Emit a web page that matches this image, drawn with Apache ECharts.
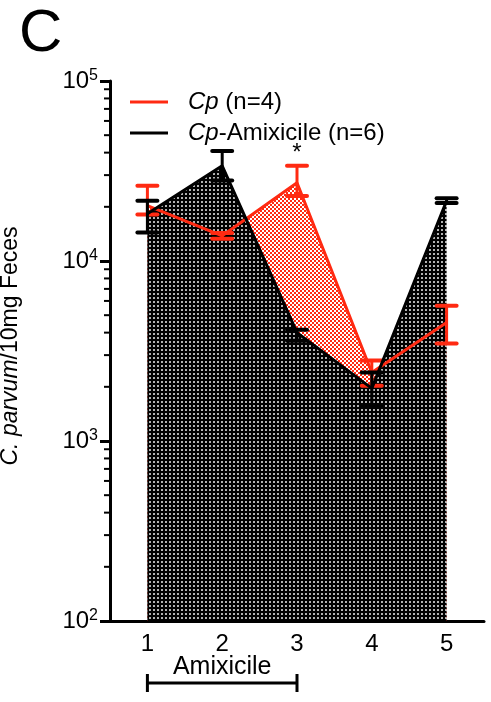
<!DOCTYPE html>
<html>
<head>
<meta charset="utf-8">
<script src="https://cdn.jsdelivr.net/npm/echarts@6/dist/echarts.min.js"></script>
<style>
  html, body { margin: 0; padding: 0; background: #fff; }
  #chart { width: 491px; height: 702px; }
</style>
</head>
<body>
<div id="chart"></div>
<script>
// days after infection
var days = ['1', '2', '3', '4', '5']
// Cp (n=4)
var cpMean = [20300, 13800, 27200, 2400, 4550]
var cpLow = [18100, 13300, 23000, 2030, 3480]
var cpHigh = [26200, 14300, 33800, 2800, 5650]
// Cp-Amixicile (n=6)
var amxMean = [18300, 33800, 4000, 1960, 21600]
var amxLow = [14400, 28000, 3610, 1575, 21000]
var amxHigh = [21600, 40900, 4150, 2400, 22300]
// log axis minor ticks
var yMinorTicks = [200, 300, 400, 500, 600, 700, 800, 900,
  2000, 3000, 4000, 5000, 6000, 7000, 8000, 9000,
  20000, 30000, 40000, 50000, 60000, 70000, 80000, 90000]
var yMin = 100
var yMax = 100000
var starDays = [2] // index of day 3
var treatmentSpan = [0, 2] // days 1..3

var RED = '#ff2a12'
var FONT = 'Liberation Sans, Arial, sans-serif'

function makeTile(bg, draw, size) {
  var c = document.createElement('canvas')
  c.width = size
  c.height = size
  var ctx = c.getContext('2d')
  ctx.fillStyle = bg
  ctx.fillRect(0, 0, size, size)
  draw(ctx)
  return c
}
var dotTile = makeTile('#000', function(ctx) {
  ctx.fillStyle = '#fff'
  ctx.beginPath()
  ctx.arc(2, 2, 0.95, 0, Math.PI * 2)
  ctx.fill()
}, 4)
var checkTile = makeTile(RED, function(ctx) {
  ctx.fillStyle = '#fff'
  ctx.fillRect(0, 0, 2, 2)
  ctx.fillRect(2, 2, 2, 2)
}, 4)

function errorBars(low, high, color, z) {
  return {
    type: 'custom',
    z: z,
    silent: true,
    encode: { x: 0, y: [1, 2] },
    data: days.map(function(d, i) { return [i, low[i], high[i]] }),
    renderItem: function(params, api) {
      var lo = api.coord([api.value(0), api.value(1)])
      var hi = api.coord([api.value(0), api.value(2)])
      var hw = 10
      return {
        type: 'group',
        children: [
          { type: 'line', shape: { x1: lo[0], y1: lo[1], x2: hi[0], y2: hi[1] }, style: { stroke: color, lineWidth: 3 } },
          { type: 'line', shape: { x1: lo[0] - hw, y1: lo[1], x2: lo[0] + hw, y2: lo[1] }, style: { stroke: color, lineWidth: 4, lineCap: 'round' } },
          { type: 'line', shape: { x1: hi[0] - hw, y1: hi[1], x2: hi[0] + hw, y2: hi[1] }, style: { stroke: color, lineWidth: 4, lineCap: 'round' } }
        ]
      }
    }
  }
}

var chart = echarts.init(document.getElementById('chart'))
chart.setOption({
  animation: false,
  title: {
    text: 'C',
    left: 14,
    top: -1,
    textStyle: { fontSize: 60, fontWeight: 'normal', color: '#000', fontFamily: FONT }
  },
  legend: {
    orient: 'vertical',
    left: 125,
    top: 85,
    itemWidth: 38,
    itemHeight: 3,
    itemGap: 7,
    icon: 'rect',
    data: ['Cp (n=4)', 'Cp-Amixicile (n=6)'],
    formatter: function(name) { return name.replace('Cp', '{i|Cp}') },
    textStyle: {
      fontSize: 24,
      color: '#000',
      fontFamily: FONT,
      padding: [0, 0, 0, 15],
      rich: { i: { fontStyle: 'italic', fontSize: 24, color: '#000', fontFamily: FONT } }
    }
  },
  grid: { left: 110, right: 7, top: 81, bottom: 81, containLabel: false, outerBoundsMode: 'none' },
  xAxis: {
    type: 'category',
    data: days,
    boundaryGap: true,
    axisLine: { lineStyle: { color: '#000', width: 3 } },
    axisTick: { alignWithLabel: true, length: 9, lineStyle: { color: '#000', width: 3 } },
    axisLabel: { fontSize: 24, color: '#000', fontFamily: FONT, margin: 11 },
    splitLine: { show: false }
  },
  yAxis: {
    type: 'log',
    logBase: 10,
    min: yMin,
    max: yMax,
    axisLine: { show: true, lineStyle: { color: '#000', width: 3 } },
    axisTick: { show: true, length: 10, lineStyle: { color: '#000', width: 3 } },
    splitLine: { show: false },
    axisLabel: {
      margin: 12,
      formatter: function(v) { return '{b|10}{s|' + Math.round(Math.log10(v)) + '}' },
      rich: {
        b: { fontSize: 24, color: '#000', fontFamily: FONT, lineHeight: 26 },
        s: { fontSize: 16, color: '#000', fontFamily: FONT, verticalAlign: 'top', lineHeight: 16 }
      }
    },
    name: '{i|C. parvum}/10mg Feces',
    nameLocation: 'middle',
    nameGap: 88,
    nameTextStyle: {
      fontSize: 23,
      color: '#000',
      fontFamily: FONT,
      padding: [0, 0, 0, 10],
      rich: { i: { fontStyle: 'italic', fontSize: 23, color: '#000', fontFamily: FONT } }
    }
  },
  series: [
    {
      name: 'cpArea',
      type: 'line',
      z: 1,
      data: cpMean,
      symbol: 'none',
      silent: true,
      lineStyle: { width: 0 },
      areaStyle: { color: { image: checkTile, repeat: 'repeat' }, opacity: 1, origin: 'start' }
    },
    {
      name: 'amxArea',
      type: 'line',
      z: 2,
      data: amxMean,
      symbol: 'none',
      silent: true,
      lineStyle: { width: 0 },
      areaStyle: { color: { image: dotTile, repeat: 'repeat' }, opacity: 1, origin: 'start' }
    },
    Object.assign(errorBars(cpLow, cpHigh, RED, 3), { name: 'cpErr' }),
    {
      name: 'Cp (n=4)',
      type: 'line',
      z: 3,
      data: cpMean,
      symbol: 'none',
      itemStyle: { color: RED },
      lineStyle: { color: RED, width: 3 }
    },
    Object.assign(errorBars(amxLow, amxHigh, '#000', 4), { name: 'amxErr' }),
    {
      name: 'Cp-Amixicile (n=6)',
      type: 'line',
      z: 4,
      data: amxMean,
      symbol: 'none',
      itemStyle: { color: '#000' },
      lineStyle: { color: '#000', width: 3 }
    },
    {
      // minor ticks on the log axis
      type: 'custom',
      z: 5,
      silent: true,
      encode: { x: 0, y: 1 },
      data: yMinorTicks.map(function(v) { return [0, v] }),
      renderItem: function(params, api) {
        var p = api.coord([0, api.value(1)])
        var x0 = params.coordSys.x
        return { type: 'line', shape: { x1: x0 - 6, y1: p[1], x2: x0, y2: p[1] }, style: { stroke: '#000', lineWidth: 2 } }
      }
    },
    {
      // significance star
      type: 'custom',
      z: 5,
      silent: true,
      encode: { x: 0, y: 1 },
      data: starDays.map(function(i) { return [i, Math.max(cpHigh[i], amxHigh[i])] }),
      renderItem: function(params, api) {
        var p = api.coord([api.value(0), api.value(1)])
        return { type: 'text', x: p[0], y: p[1] - 12, style: { text: '*', fontSize: 24, fill: '#000', fontFamily: FONT, textAlign: 'center', textVerticalAlign: 'middle' } }
      }
    },
    {
      // treatment bracket
      type: 'custom',
      z: 5,
      silent: true,
      clip: false,
      encode: { x: [0, 1] },
      data: [[treatmentSpan[0], treatmentSpan[1]]],
      renderItem: function(params, api) {
        var a = api.coord([api.value(0), yMin])
        var b = api.coord([api.value(1), yMin])
        var y = a[1] + 62
        var s = { stroke: '#000', lineWidth: 3 }
        return {
          type: 'group',
          children: [
            { type: 'text', x: (a[0] + b[0]) / 2, y: a[1] + 46, style: { text: 'Amixicile', fontSize: 25, fill: '#000', fontFamily: FONT, textAlign: 'center', textVerticalAlign: 'middle' } },
            { type: 'line', shape: { x1: a[0], y1: y, x2: b[0], y2: y }, style: s },
            { type: 'line', shape: { x1: a[0], y1: y - 9, x2: a[0], y2: y + 9 }, style: s },
            { type: 'line', shape: { x1: b[0], y1: y - 9, x2: b[0], y2: y + 9 }, style: s }
          ]
        }
      }
    }
  ]
})
</script>
</body>
</html>
